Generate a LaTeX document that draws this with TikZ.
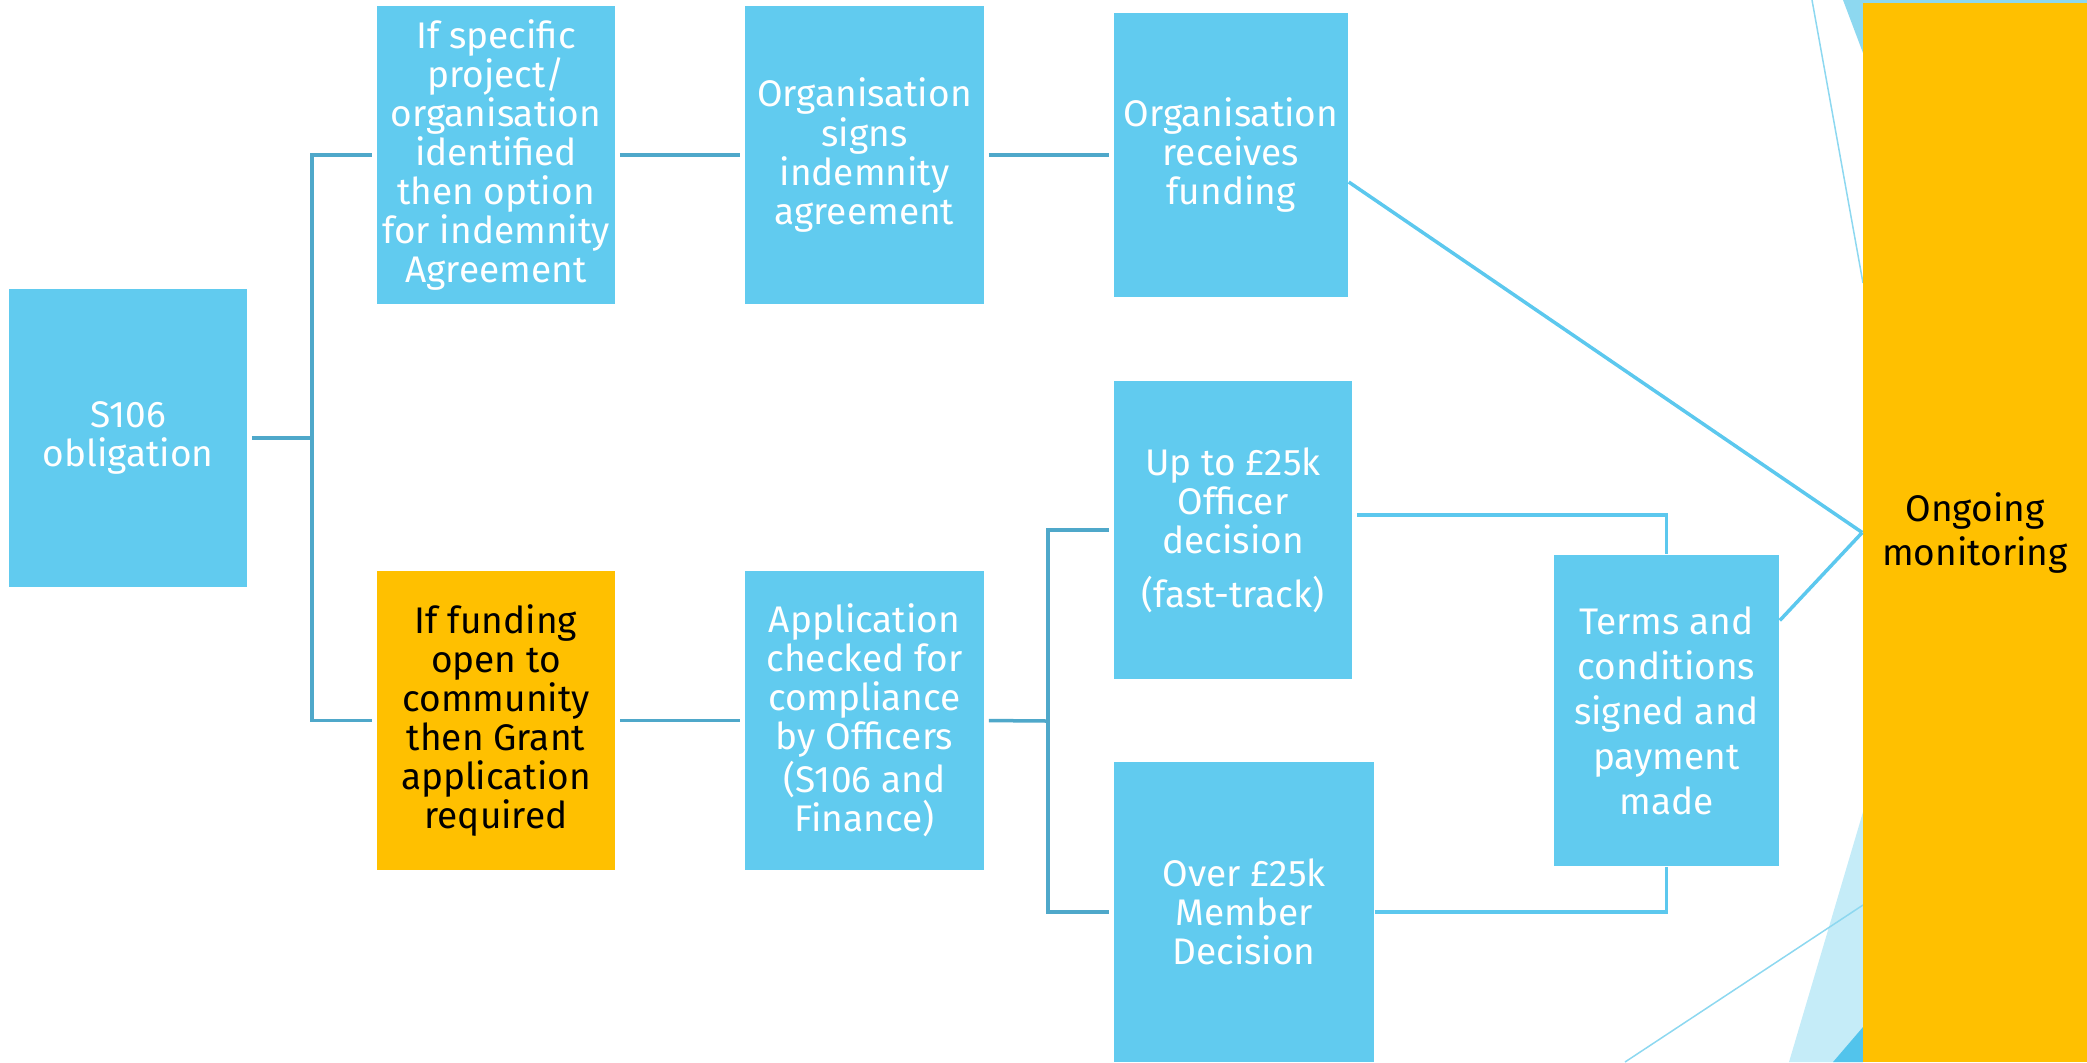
\documentclass[tikz,border=0pt]{standalone}
\usepackage{fontspec}
\setmainfont{Fira Sans}
\definecolor{boxblue}{HTML}{61CBEF}
\definecolor{boxorange}{HTML}{FFC000}
\definecolor{linedark}{HTML}{4FA8CA}
\definecolor{linelight}{HTML}{5CC8EE}
\definecolor{decolight}{HTML}{C5ECF8}
\definecolor{decomid}{HTML}{8DD8F0}
\definecolor{decodark}{HTML}{52C4EC}
\tikzset{
  stepbox/.style={fill=boxblue, draw=none, inner sep=0pt, align=center, text=white,
    font=\fontsize{0.37cm}{0.39cm}\selectfont},
  orangebox/.style={stepbox, fill=boxorange, text=black},
  conndark/.style={draw=linedark, line width=0.035cm},
  connlight/.style={draw=linelight, line width=0.035cm},
  decoline/.style={draw=decomid, line width=0.015cm},
}
\begin{document}
\begin{tikzpicture}[x=0.01cm, y=-0.01cm]
\useasboundingbox (0,0) rectangle (2087,1062);
% background decoration
\fill[decomid] (1843,0) -- (2087,0) -- (2087,10) -- (1863,53) -- cycle;
\fill[decolight] (1789,1062) -- (1863,812) -- (1863,1062) -- cycle;
\fill[decodark] (1833,1062) -- (1863,1027) -- (1863,1062) -- cycle;
\draw[decoline] (1812,0) -- (1863,283);
\draw[decoline] (1625,1062) -- (1863,905);

% nodes
\node[stepbox, minimum width=2.38cm, minimum height=2.98cm] (s106) at (128,438) {S106\\obligation};
\node[stepbox, minimum width=2.38cm, minimum height=2.98cm] (b1) at (496,155)
  {If specific\\project/\\organisation\\identified\\then option\\for indemnity\\Agreement};
\node[stepbox, minimum width=2.39cm, minimum height=2.98cm] (b2) at (864.5,155)
  {Organisation\\signs\\indemnity\\agreement};
\node[stepbox, minimum width=2.34cm, minimum height=2.84cm] (b3) at (1231,155)
  {Organisation\\receives\\funding};
\node[orangebox, minimum width=2.38cm, minimum height=2.99cm] (o1) at (496,720.5)
  {If funding\\open to\\community\\then Grant\\application\\required};
\node[stepbox, minimum width=2.39cm, minimum height=2.99cm] (app) at (864.5,720.5)
  {Application\\checked for\\compliance\\by Officers\\(S106 and\\Finance)};
\node[stepbox, minimum width=2.38cm, minimum height=2.98cm] (up) at (1233,530)
  {Up to £25k\\Officer\\decision\\[0.15cm](fast-track)};
\node[stepbox, minimum width=2.60cm, minimum height=3.00cm] (over) at (1244,912)
  {Over £25k\\Member\\Decision};
\node[stepbox, minimum width=2.25cm, minimum height=3.11cm,
  font=\fontsize{0.37cm}{0.45cm}\selectfont] (terms) at (1666.5,710.5)
  {Terms and\\conditions\\signed and\\payment\\made};
\node[orangebox, minimum width=2.24cm, minimum height=10.59cm,
  font=\fontsize{0.37cm}{0.44cm}\selectfont] (mon) at (1975,532.5)
  {Ongoing\\monitoring};

% connectors, left tree
\coordinate (trunk) at (312,438);
\draw[conndark, shorten <=0.04cm] (s106.east) -- (trunk);
\draw[conndark, shorten >=0.04cm] (trunk) |- (b1.west);
\draw[conndark, shorten >=0.04cm] (trunk) |- (o1.west);
\draw[conndark, shorten <=0.04cm, shorten >=0.04cm] (b1) -- (b2);
\draw[conndark, shorten <=0.04cm, shorten >=0.04cm] (b2) -- (b3);
\draw[conndark, shorten <=0.04cm, shorten >=0.04cm] (o1) -- (app);
\coordinate (split) at (1048,721);
\draw[conndark, shorten <=0.04cm] (app.east) -- (split);
\draw[conndark, shorten >=0.04cm] (split) |- (up.west);
\draw[conndark, shorten >=0.04cm] (split) |- (over.west);

% connectors, right side
\draw[connlight, shorten <=0.04cm] ([yshift=0.15cm]up.east) -| (terms.north);
\draw[connlight] (over.east) -| (terms.south);
\draw[connlight] ([yshift=-0.27cm]b3.east) -- (mon.west);
\draw[connlight] ([yshift=0.9cm]terms.east) -- (mon.west);
\end{tikzpicture}
\end{document}
